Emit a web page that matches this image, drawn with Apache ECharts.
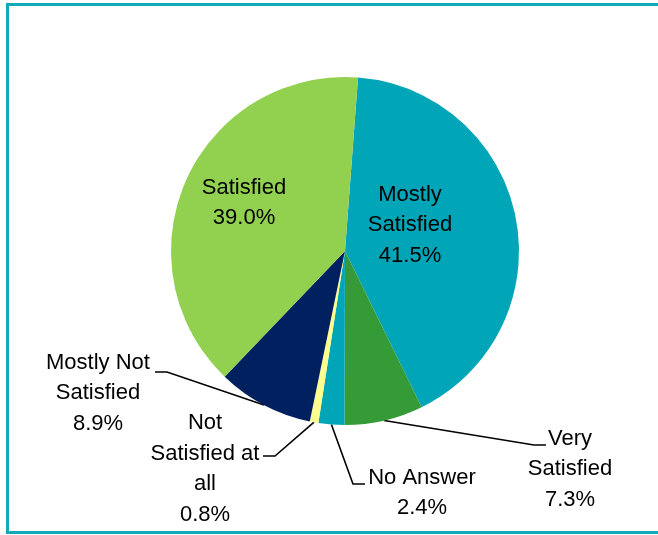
<!DOCTYPE html>
<html>
<head>
<meta charset="utf-8">
<script src="https://cdn.jsdelivr.net/npm/echarts@6/dist/echarts.min.js"></script>
<style>
  html, body { margin: 0; padding: 0; background: #fff; }
  #chart { width: 658px; height: 535px; }
</style>
</head>
<body>
<div id="chart"></div>
<script>
// slices, clockwise from the top
var categories = ["Mostly Satisfied", "Very Satisfied", "No Answer", "Not Satisfied at all", "Mostly Not Satisfied", "Satisfied"];
var values = [41.5, 7.3, 2.4, 0.8, 8.9, 39.0];
var labelTexts = ["Mostly\nSatisfied", "Very\nSatisfied", "No Answer", "Not\nSatisfied at\nall", "Mostly Not\nSatisfied", "Satisfied"];
var colors = ["#00A6B8", "#349B37", "#00A6B8", "#FFFF8F", "#002060", "#92D050"];

// where each label block sits (centre of the block)
var labelPos = [[410, 225], [570, 469], [422, 493], [205, 469], [98, 393], [244, 203]];
// where the leader line meets the text (null = label inside the slice)
var lineEnds = [null, [546, 445], [365, 484], [263, 456], [155, 372], null];

var CX = 345, CY = 251, R = 174, START = 85.7;

var chart = echarts.init(document.getElementById("chart"));

var data = categories.map(function (c, i) {
  return {
    name: c,
    value: values[i],
    itemStyle: { color: colors[i] },
    labelLine: { show: !!lineEnds[i] }
  };
});

// mid-angle point on the rim, used if the library gives no line points
function rimPoint(idx) {
  var total = values.reduce(function (a, b) { return a + b; }, 0);
  var before = 0;
  for (var k = 0; k < idx; k++) before += values[k];
  var mid = (before + values[idx] / 2) / total * 360;
  var a = (START - mid) * Math.PI / 180;
  return [CX + R * Math.cos(a), CY - R * Math.sin(a)];
}

chart.setOption({
  animation: false,
  graphic: [
    {
      type: "rect",
      shape: { x: 7.5, y: 4.5, width: 700, height: 528 },
      style: { fill: "none", stroke: "#12A9B9", lineWidth: 3 }
    }
  ],
  series: [
    {
      type: "pie",
      center: [CX, CY],
      radius: R,
      startAngle: START,
      clockwise: true,
      avoidLabelOverlap: false,
      itemStyle: { borderWidth: 0 },
      emphasis: { disabled: true },
      label: {
        show: true,
        position: "outside",
        fontFamily: "Liberation Sans, Arial, sans-serif",
        fontSize: 22,
        lineHeight: 30.5,
        color: "#000",
        align: "center",
        formatter: function (p) {
          return labelTexts[p.dataIndex] + "\n" + p.value.toFixed(1) + "%";
        }
      },
      labelLine: {
        show: true,
        length: 15,
        length2: 10,
        lineStyle: { color: "#000", width: 1.6 }
      },
      labelLayout: function (params) {
        var i = params.dataIndex;
        var pos = labelPos[i];
        var out = { x: pos[0], y: pos[1], align: "center", verticalAlign: "middle" };
        var end = lineEnds[i];
        if (end) {
          var start = rimPoint(i);
          var side = end[0] > CX ? -1 : 1;
          out.labelLinePoints = [start, [end[0] + side * 12, end[1]], end];
        }
        return out;
      },
      data: data
    }
  ]
});
</script>
</body>
</html>
